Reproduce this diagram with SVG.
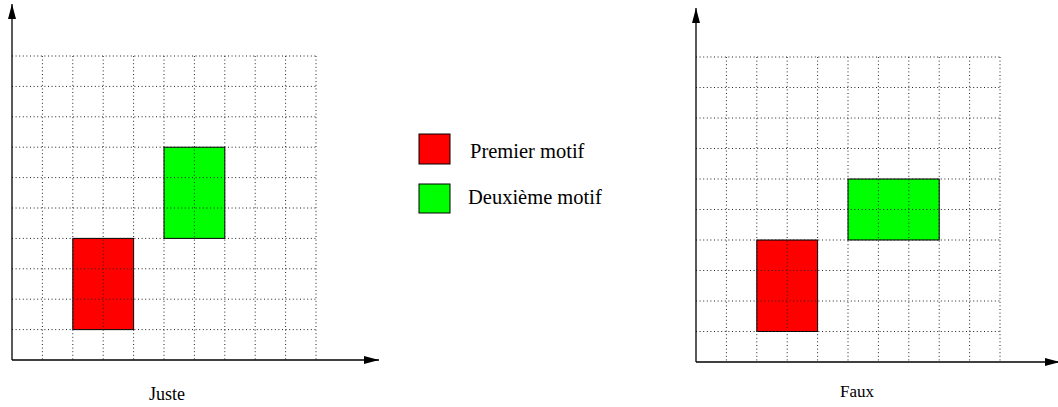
<svg xmlns="http://www.w3.org/2000/svg" width="1058" height="407" viewBox="0 0 1058 407">
  <defs>
    <marker id="arrow" viewBox="0 0 15 8" refX="15" refY="4" markerWidth="15" markerHeight="8" markerUnits="userSpaceOnUse" orient="auto">
      <path d="M0,0 L15,4 L0,8 Z" fill="#000"/>
    </marker>
  </defs>
  <style>
    .grid { fill: none; stroke: #222; stroke-width: 1; stroke-dasharray: 1 2.6; }
    .red { fill: #ff0000; stroke: #000; stroke-width: 1; }
    .green { fill: #00ff00; stroke: #000; stroke-width: 1; }
    .axis { fill: none; stroke: #000; stroke-width: 1.3; marker-end: url(#arrow); }
    .label { font-family: "Liberation Serif", "Times New Roman", serif; font-size: 17px; fill: #000; }
    .legend { font-size: 20.5px; }
  </style>

  <!-- left panel: "Juste" -->
  <g id="panel-juste">
    <rect class="red" x="72.8" y="238.4" width="60.8" height="91.2"/>
    <rect class="green" x="164" y="147.2" width="60.8" height="91.2"/>
    <path class="grid" d="M12,56 H316 M12,86.4 H316 M12,116.8 H316 M12,147.2 H316 M12,177.6 H316 M12,208 H316 M12,238.4 H316 M12,268.8 H316 M12,299.2 H316 M12,329.6 H316
      M42.4,56 V360 M72.8,56 V360 M103.2,56 V360 M133.6,56 V360 M164,56 V360 M194.4,56 V360 M224.8,56 V360 M255.2,56 V360 M285.6,56 V360 M316,56 V360"/>
    <text class="label" x="167" y="400" text-anchor="middle" style="font-size:18px">Juste</text>
  </g>

  <!-- legend -->
  <g id="legend-premier">
    <rect class="red" x="419" y="134" width="31" height="30"/>
    <text class="label legend" x="470" y="158">Premier motif</text>
  </g>
  <g id="legend-deuxieme">
    <rect class="green" x="419" y="184" width="31" height="29"/>
    <text class="label legend" x="468" y="204">Deuxième motif</text>
  </g>

  <!-- right panel: "Faux" -->
  <g id="panel-faux">
    <rect class="red" x="756.8" y="240" width="60.8" height="91.5"/>
    <rect class="green" x="848" y="179" width="91.2" height="61"/>
    <path class="grid" d="M696,57 H1000 M696,87.5 H1000 M696,118 H1000 M696,148.5 H1000 M696,179 H1000 M696,209.5 H1000 M696,240 H1000 M696,270.5 H1000 M696,301 H1000 M696,331.5 H1000
      M726.4,57 V362 M756.8,57 V362 M787.2,57 V362 M817.6,57 V362 M848,57 V362 M878.4,57 V362 M908.8,57 V362 M939.2,57 V362 M969.6,57 V362 M1000,57 V362"/>
    <text class="label" x="857" y="397" text-anchor="middle">Faux</text>
  </g>

  <!-- axes -->
  <g id="axes">
    <path class="axis" d="M12,360 V4"/>
    <path class="axis" d="M12,360 H379"/>
    <path class="axis" d="M696,362 V8"/>
    <path class="axis" d="M696,362 H1060"/>
  </g>
</svg>
